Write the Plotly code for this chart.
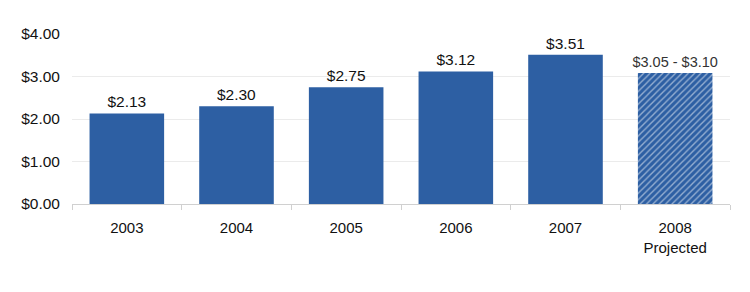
import plotly.graph_objects as go

years = ["2003", "2004", "2005", "2006", "2007", "2008<br>Projected"]
values = [2.13, 2.30, 2.75, 3.12, 3.51, 3.08]
labels = ["$2.13", "$2.30", "$2.75", "$3.12", "$3.51", "$3.05 - $3.10"]
label_sizes = [15.5, 15.5, 15.5, 15.5, 15.5, 14.5]
label_colors = ["#111", "#111", "#111", "#111", "#111", "#333"]
patterns = ["", "", "", "", "", "/"]
y_ticks = [0, 1, 2, 3, 4]
y_tick_text = ["$0.00", "$1.00", "$2.00", "$3.00", "$4.00"]

blue = "#2D5FA3"
fig = go.Figure(go.Bar(
    x=years, y=values, text=labels, textposition="outside", constraintext="none",
    textfont=dict(family="Liberation Sans, Arial", size=label_sizes, color=label_colors),
    marker=dict(color=blue, line=dict(width=0),
                pattern=dict(shape=patterns, fgcolor="white", bgcolor=blue, size=4.5, solidity=0.3)),
    width=0.68, cliponaxis=False,
))
fig.update_layout(
    width=750, height=292, margin=dict(l=72, r=20, t=34, b=88),
    paper_bgcolor="white", plot_bgcolor="white", showlegend=False,
    font=dict(family="Liberation Sans, Arial", size=15, color="#111"),
)
fig.update_yaxes(range=[0, 4], tickvals=y_ticks, ticktext=y_tick_text,
                 showgrid=True, gridcolor="#EBEBEB", gridwidth=1, zeroline=False,
                 showline=False, ticks="", tickfont=dict(size=15.5), ticklabelstandoff=11)
fig.update_xaxes(showline=True, linecolor="#D0D0D0", linewidth=1, ticks="outside",
                 tickson="boundaries", ticklen=5, tickcolor="#D0D0D0",
                 tickfont=dict(size=15), ticklabelstandoff=10)
fig.write_html("out.html")
